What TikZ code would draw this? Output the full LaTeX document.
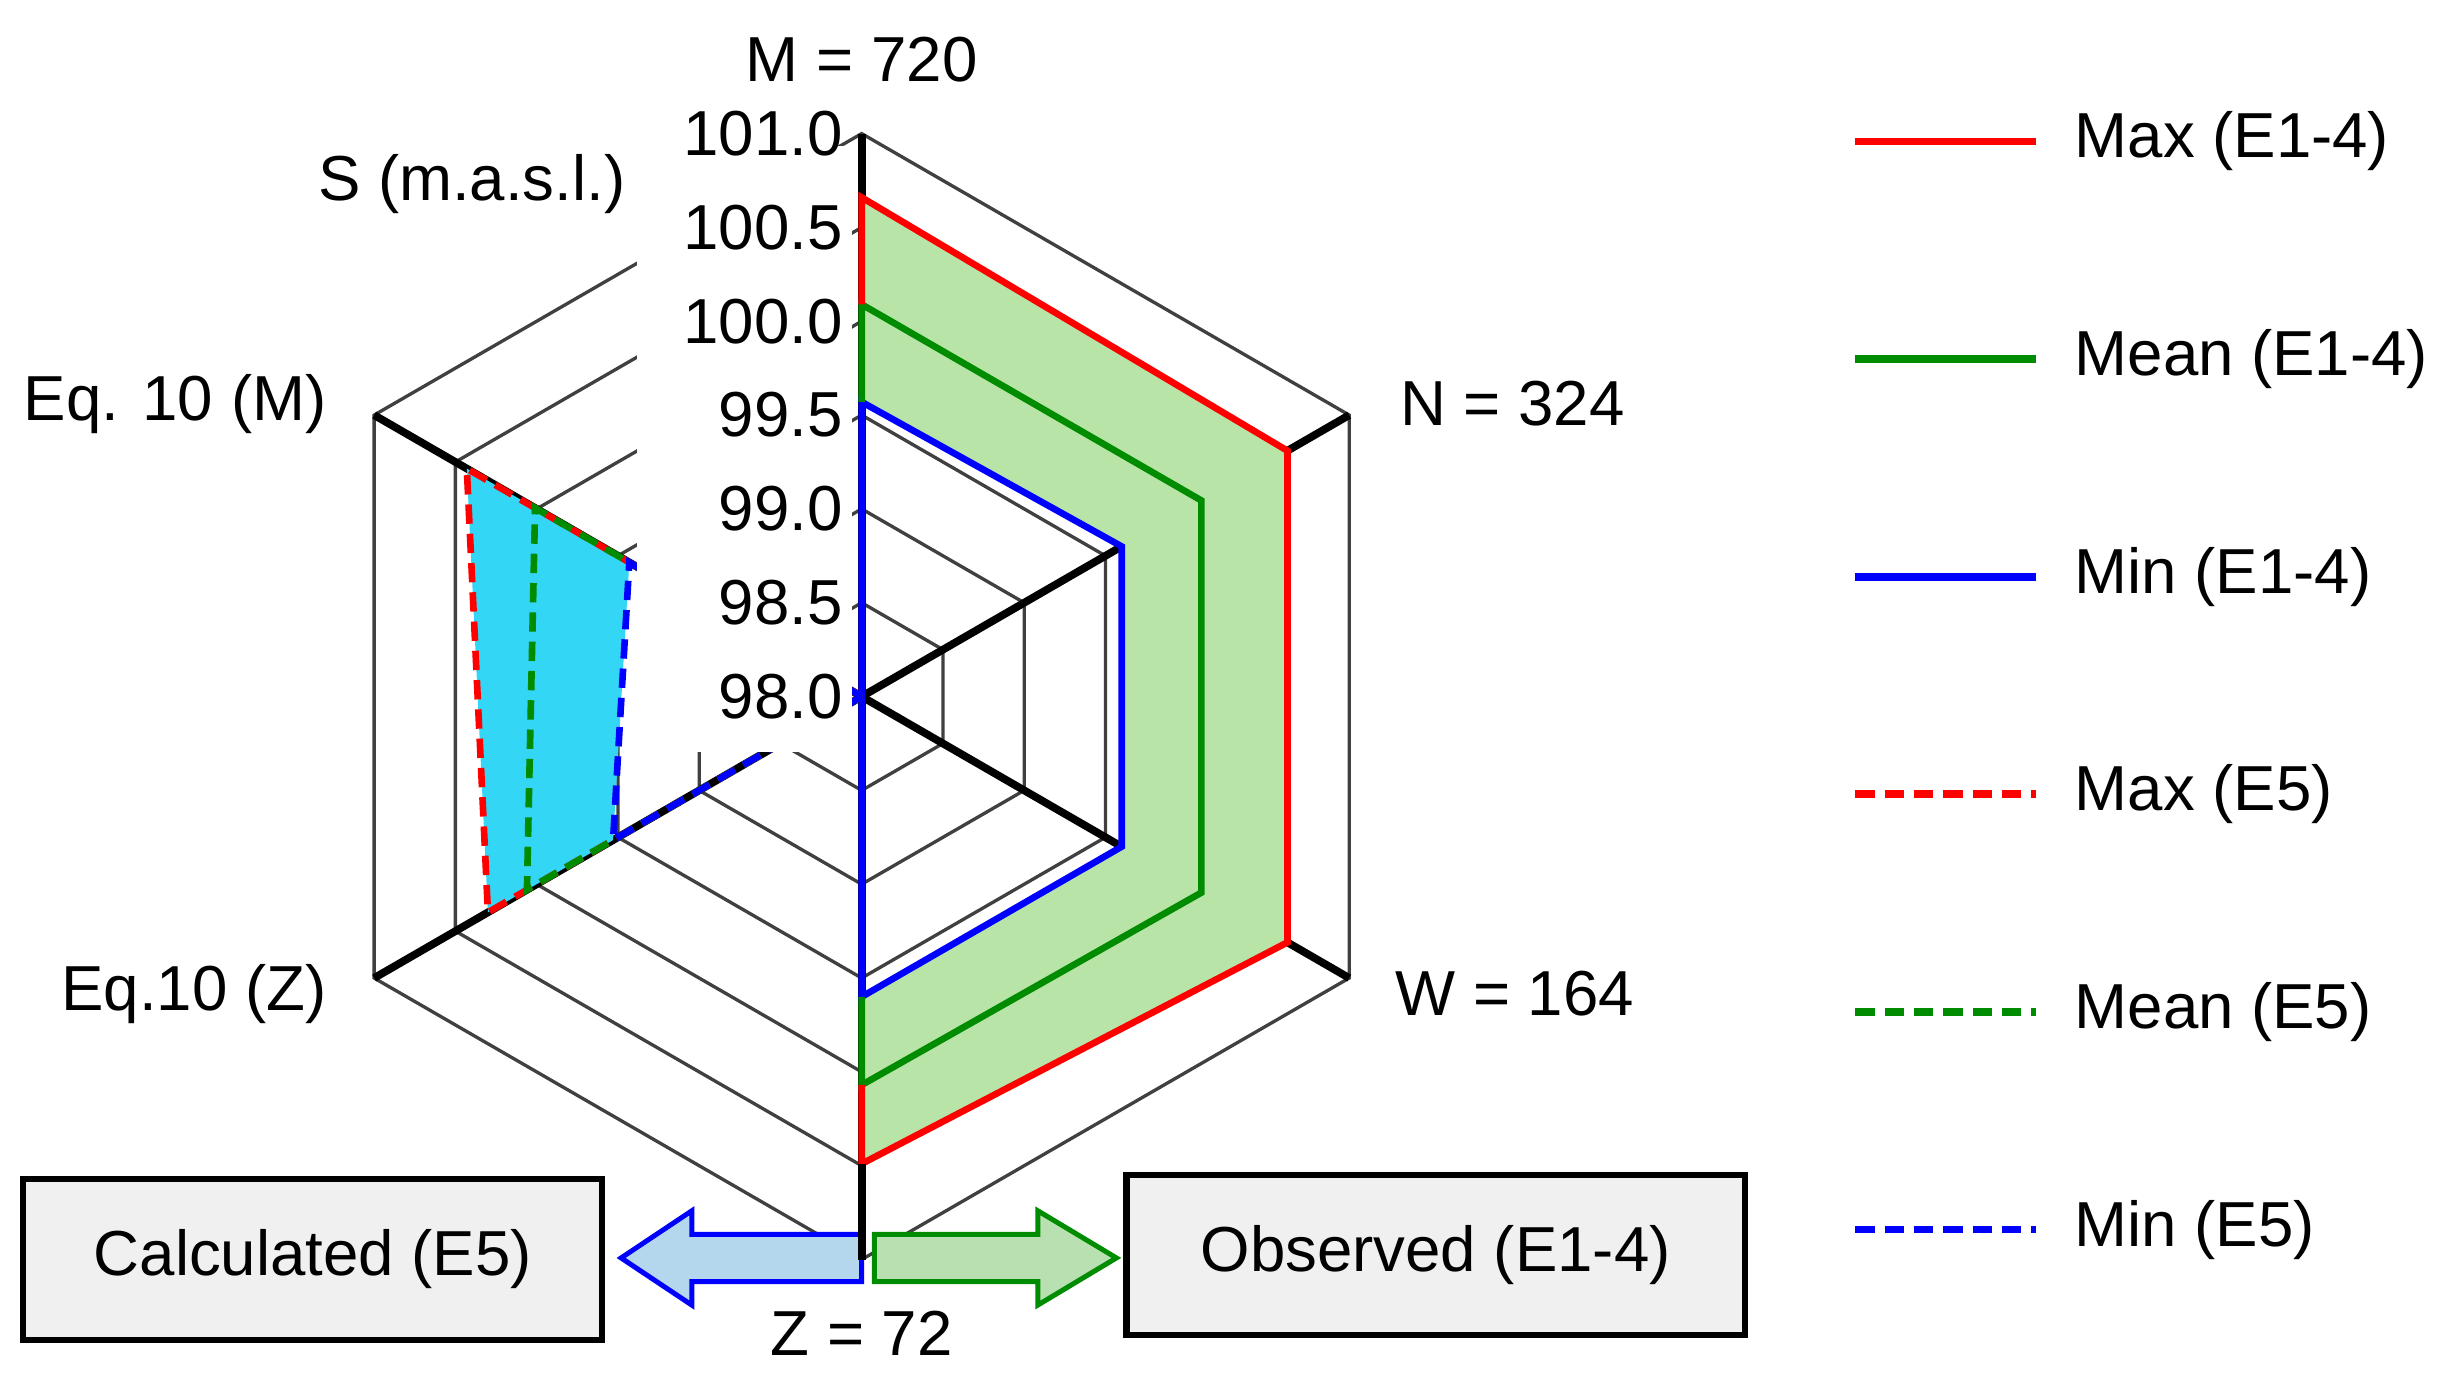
\documentclass[tikz,border=0pt]{standalone}
\usepackage{fontspec}
\setmainfont{Liberation Sans}
\usetikzlibrary{positioning, calc}
\definecolor{bandgreen}{RGB}{184,228,168}
\definecolor{bandcyan}{RGB}{51,214,245}
\definecolor{arrblue}{RGB}{180,215,238}
\definecolor{arrgreen}{RGB}{184,224,176}
\definecolor{darkgreen}{RGB}{0,140,0}
% value on an axis: angle, value
\newcommand{\rv}[2]{({#1}:{(#2-98)*119.33})}

\begin{document}
\begin{tikzpicture}[x=0.01cm, y=0.01cm,
    lbl/.style={font=\fontsize{11.5}{13}\selectfont},
    grid/.style={draw=black!75, line width=0.6pt},
    axis/.style={line width=1.4pt},
    ser/.style={line width=1.2pt},
    dser/.style={line width=1.2pt, dash pattern=on 3.5pt off 1.8pt},
    lbox/.style={draw, line width=1.1pt, fill=black!6, minimum width=3.68cm,
                 minimum height=1.02cm, lbl}
]
\useasboundingbox (-548,-437) rectangle (1012,443);

% rings
\foreach \k in {1,...,6}
  \draw[grid] (90:\k*59.67) -- (30:\k*59.67) -- (-30:\k*59.67) -- (-90:\k*59.67)
     -- (210:\k*59.67) -- (150:\k*59.67) -- cycle;

% axes
\coordinate (c) at (0,0);
\foreach \a/\n in {90/vM, 30/vN, -30/vW, -90/vZ, 210/vEZ, 150/vEM}
  \coordinate (\n) at (\a:358);
\foreach \n in {vM, vN, vW, vZ, vEZ, vEM}
  \draw[axis] (c) -- (\n);

% bands
\fill[bandgreen] \rv{90}{100.66} -- \rv{30}{100.62} -- \rv{-30}{100.62} -- \rv{-90}{100.49}
   -- \rv{-90}{99.6} -- \rv{-30}{99.6} -- \rv{30}{99.6} -- \rv{90}{99.57} -- cycle;
\fill[bandcyan] \rv{150}{100.43} -- \rv{210}{100.30} -- \rv{210}{99.53} -- \rv{150}{99.43} -- cycle;

% observed (E1-4)
\draw[ser, blue] (c) -- \rv{90}{99.57} -- \rv{30}{99.6} -- \rv{-30}{99.6} -- \rv{-90}{99.6} -- (c);
\draw[ser, darkgreen] \rv{90}{99.57} -- \rv{90}{100.09} -- \rv{30}{100.09} -- \rv{-30}{100.09} -- \rv{-90}{100.07} -- \rv{-90}{99.6};
\draw[ser, red] \rv{90}{100.09} -- \rv{90}{100.66} -- \rv{30}{100.62} -- \rv{-30}{100.62} -- \rv{-90}{100.49} -- \rv{-90}{100.07};

% calculated (E5)
\draw[dser, red] (c) -- \rv{210}{100.30} -- \rv{150}{100.43} -- (c);
\draw[dser, darkgreen] (c) -- \rv{210}{100.06} -- \rv{150}{100.01} -- (c);
\draw[dser, blue] (c) -- \rv{210}{99.53} -- \rv{150}{99.43} -- (c);

% label background
\fill[white] (-143,350) rectangle (-6,-35);

% tick labels
\foreach \v [count=\k from 0] in {98.0,98.5,99.0,99.5,100.0,100.5,101.0}
  \node[lbl, anchor=east, inner sep=1pt] (t\k) at (-8,\k*59.67) {\v};
\node[lbl] (unit) at (-248,326) {S (m.a.s.l.)};

% axis labels
\node[lbl] (lM) at (0,405) {M = 720};
\node[lbl, anchor=west] (lN) at (330,186) {N = 324};
\node[lbl, anchor=west] (lW) at (327,-189) {W = 164};
\node[lbl] (lZ) at (0,-405) {Z = 72};
\node[lbl, anchor=east] (lEM) at (-328,186) {Eq. 10 (M)};
\node[lbl, anchor=east] (lEZ) at (-328,-189) {Eq.10 (Z)};

% boxes and arrows
\node[lbox] (calc) at (-349,-358) {Calculated (E5)};
\node[lbox, minimum width=3.93cm] (obs) at (365,-355) {Observed (E1-4)};
\draw[blue, line width=0.9pt, fill=arrblue] (0,-342) -- (-108,-342) -- (-108,-327) -- (-153,-357)
   -- (-108,-387) -- (-108,-372) -- (0,-372) -- cycle;
\draw[darkgreen, line width=0.9pt, fill=arrgreen] (8,-342) -- (112,-342) -- (112,-327) -- (162,-357)
   -- (112,-387) -- (112,-372) -- (8,-372) -- cycle;
\draw[axis] \rv{-90}{100.49} -- (vZ);

% legend
\foreach \t/\c/\s [count=\i from 0] in {Max (E1-4)/red/ser, Mean (E1-4)/darkgreen/ser,
    Min (E1-4)/blue/ser, Max (E5)/red/dser, Mean (E5)/darkgreen/dser, Min (E5)/blue/dser} {
  \coordinate (la\i) at (632,353-\i*138.4);
  \coordinate (lb\i) at (747,353-\i*138.4);
  \draw[\s, \c, line width=1.4pt] (la\i) -- (lb\i);
  \node[lbl, anchor=west] (ln\i) at ($(lb\i)+(12,0)$) {\t};
}
\end{tikzpicture}
\end{document}
